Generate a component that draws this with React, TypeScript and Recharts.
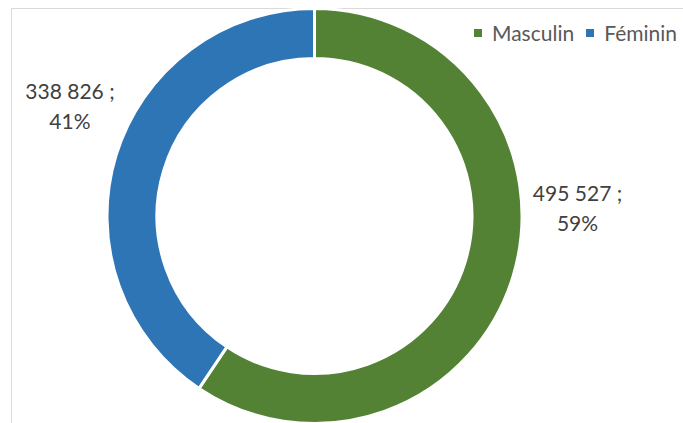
import React from 'react';
import { PieChart, Pie, Cell, Legend } from 'recharts';

const categories = ['Masculin', 'Féminin'];
const values = [495527, 338826];
const colors = ['#548235', '#2E75B6'];

const data = categories.map((name, i) => ({ name, value: values[i] }));

const RAD = Math.PI / 180;
// where Excel dropped each label, relative to the slice's outer mid point
const labelShift = [
  { dx: 64.5, dy: -75 },
  { dx: -46, dy: -57 },
];

const fmt = (n: number) => String(n).replace(/\B(?=(\d{3})+(?!\d))/g, ' ');

function renderLabel(props: any) {
  const { cx, cy, midAngle, outerRadius, value, percent, index } = props;
  const ax = cx + outerRadius * Math.cos(-midAngle * RAD);
  const ay = cy + outerRadius * Math.sin(-midAngle * RAD);
  const x = ax + labelShift[index].dx;
  const y = ay + labelShift[index].dy;
  return (
    <text x={x} y={y} textAnchor="middle" fill="#404040" fontSize={21} fontFamily="Lato">
      <tspan x={x}>{fmt(value)} ;</tspan>
      <tspan x={x} dy={30}>{Math.round(percent * 100)}%</tspan>
    </text>
  );
}

function renderLegend(props: any) {
  const payload = [...(props.payload || [])].sort(
    (a: any, b: any) => categories.indexOf(a.value) - categories.indexOf(b.value)
  );
  return (
    <div style={{ display: 'flex', whiteSpace: 'nowrap', fontFamily: 'Lato', fontSize: 21, color: '#595959' }}>
      {payload.map((entry: any) => (
        <span key={entry.value} style={{ display: 'flex', alignItems: 'center', marginRight: 12 }}>
          <span style={{ width: 8, height: 8, background: entry.color, marginRight: 10, display: 'inline-block' }} />
          {entry.value}
        </span>
      ))}
    </div>
  );
}

export default function App() {
  return (
    <div style={{ position: 'relative', width: 683, height: 423, overflow: 'hidden', background: '#fff' }}>
      <style>{'body{margin:0}'}</style>
      <div style={{ position: 'absolute', left: 11, top: 8, width: 900, height: 700, border: '1px solid #d9d9d9' }} />
      <PieChart width={683} height={423} margin={{ top: 0, right: 0, bottom: 0, left: 0 }} style={{ position: 'absolute', left: 0, top: 0 }}>
        <Pie
          data={data}
          dataKey="value"
          nameKey="name"
          cx={314.5}
          cy={216}
          outerRadius={207.5}
          innerRadius={157.5}
          startAngle={90}
          endAngle={-270}
          stroke="#fff"
          strokeWidth={3}
          label={renderLabel}
          labelLine={false}
          isAnimationActive={false}
        >
          {data.map((d, i) => (
            <Cell key={d.name} fill={colors[i]} />
          ))}
        </Pie>
        <Legend
          content={renderLegend}
          wrapperStyle={{ position: 'absolute', top: 20, left: 474, width: 320 }}
        />
      </PieChart>
    </div>
  );
}
